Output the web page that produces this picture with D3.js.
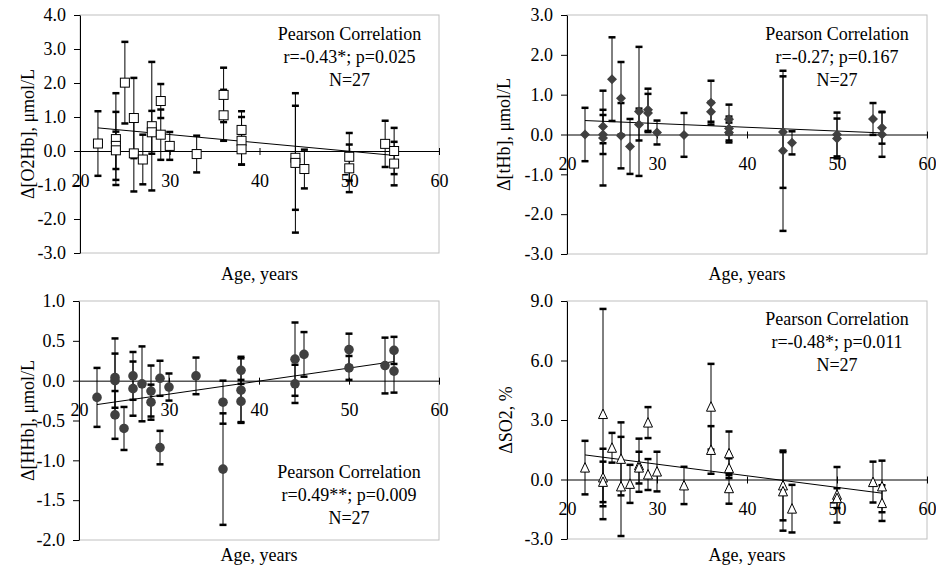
<!DOCTYPE html>
<html>
<head>
<meta charset="utf-8">
<script src="https://cdn.jsdelivr.net/npm/d3@7"></script>
<style>
  body { margin: 0; background: #fff; }
  text { font-family: "Liberation Serif", "Times New Roman", serif; font-size: 18px; fill: #000; }
</style>
</head>
<body>
<div id="chart"></div>
<script>
// age of each subject (same for all four panels)
const ages = [22, 24, 24, 24, 25, 26, 26, 27, 28, 28, 29, 29, 30, 33, 36, 36, 38, 38, 38, 44, 44, 45, 50, 50, 54, 55, 55]
const xTicks = [20, 30, 40, 50, 60]
const trendAges = [22, 55]

// delta O2Hb
const o2hbValues = [0.22, 0.35, 0.15, 0.02, 2.01, 0.97, -0.07, -0.25, 0.73, 0.55, 1.47, 0.48, 0.15, -0.09, 1.65, 1.05, 0.62, 0.3, 0.05, -0.2, -0.35, -0.53, -0.17, -0.51, 0.21, 0.0, -0.37]
const o2hbErrors = [0.95, 1.35, 1.0, 0.55, 1.2, 1.18, 1.12, 0.73, 1.89, 0.63, 0.5, 0.74, 0.41, 0.54, 0.8, 0.75, 0.55, 0.7, 0.45, 1.53, 2.05, 0.57, 0.7, 0.7, 0.68, 0.68, 0.64]
const o2hbTrend = [0.68, -0.13]
const o2hbTicks = [-3, -2, -1, 0, 1, 2, 3, 4]
const o2hbStats = ['Pearson Correlation', 'r=-0.43*; p=0.025', 'N=27']

// delta tHb
const thbValues = [0.0, 0.2, 0.0, -0.09, 1.39, 0.91, -0.03, -0.3, 0.58, 0.25, 0.62, 0.54, 0.05, -0.01, 0.8, 0.57, 0.38, 0.15, 0.05, 0.06, -0.41, -0.21, 0.0, -0.1, 0.39, 0.17, 0.0]
const thbErrors = [0.67, 0.42, 0.49, 1.19, 1.05, 0.91, 0.82, 0.69, 1.62, 0.4, 0.53, 0.48, 0.3, 0.55, 0.55, 0.25, 0.37, 0.3, 0.25, 1.4, 2.01, 0.29, 0.55, 0.5, 0.4, 0.4, 0.56]
const thbTrend = [0.35, 0.04]
const thbTicks = [-3, -2, -1, 0, 1, 2, 3]
const thbStats = ['Pearson Correlation', 'r=-0.27; p=0.167', 'N=27']

// delta HHb
const hhbValues = [-0.21, 0.04, 0.0, -0.43, -0.6, 0.06, -0.1, -0.04, -0.13, -0.27, 0.03, -0.84, -0.08, 0.06, -0.27, -1.11, 0.13, -0.12, -0.26, 0.27, -0.04, 0.33, 0.39, 0.16, 0.19, 0.38, 0.12]
const hhbErrors = [0.37, 0.49, 0.34, 0.3, 0.27, 0.3, 0.34, 0.47, 0.32, 0.22, 0.22, 0.21, 0.17, 0.23, 0.27, 0.7, 0.17, 0.4, 0.27, 0.46, 0.24, 0.28, 0.2, 0.15, 0.35, 0.17, 0.27]
const hhbTrend = [-0.30, 0.24]
const hhbTicks = [-2, -1.5, -1, -0.5, 0, 0.5, 1]
const hhbStats = ['Pearson Correlation', 'r=0.49**; p=0.009', 'N=27']

// delta SO2
const so2Values = [0.6, 3.3, 0.1, -0.12, 1.6, 1.04, -0.35, -0.22, 0.72, 0.6, 2.87, 0.25, 0.4, -0.3, 3.67, 1.49, 1.32, 0.57, -0.44, -0.3, -0.6, -1.47, -0.77, -0.94, -0.13, -0.35, -1.19]
const so2Errors = [1.35, 5.3, 1.45, 1.02, 0.75, 1.84, 2.5, 0.96, 1.34, 0.8, 0.78, 0.78, 1.0, 0.94, 2.16, 1.2, 1.1, 0.5, 0.78, 1.76, 1.98, 1.2, 1.4, 0.5, 1.03, 1.3, 0.9]
const so2Trend = [1.24, -0.69]
const so2Ticks = [-3, 0, 3, 6, 9]
const so2Stats = ['Pearson Correlation', 'r=-0.48*; p=0.011', 'N=27']

const svg = d3
  .select('#chart')
  .append('svg')
  .attr('width', 936)
  .attr('height', 571)

// marker shapes, centred on 0,0
const markers = {
  square: g => g.append('rect').attr('x', -4.5).attr('y', -4.5).attr('width', 9).attr('height', 9)
    .attr('fill', '#fff').attr('stroke', '#000').attr('stroke-width', 1),
  diamond: g => g.append('path').attr('d', 'M0,-5L5,0L0,5L-5,0Z').attr('fill', '#404040'),
  circle: g => g.append('circle').attr('r', 4.8).attr('fill', '#404040'),
  triangle: g => g.append('path').attr('d', 'M0,-5L4.5,4.5L-4.5,4.5Z')
    .attr('fill', '#fff').attr('stroke', '#000').attr('stroke-width', 1)
}

const panels = [
  { values: o2hbValues, errors: o2hbErrors, trend: o2hbTrend, ticks: o2hbTicks, stats: o2hbStats,
    yTitle: 'Δ[O2Hb], μmol/L', marker: 'square',
    left: 80, right: 439, top: 15, bottom: 253, statsY: 40, titleY: 280, yTitleX: 28 },
  { values: thbValues, errors: thbErrors, trend: thbTrend, ticks: thbTicks, stats: thbStats,
    yTitle: 'Δ[tHb], μmol/L', marker: 'diamond',
    left: 567, right: 927, top: 15, bottom: 254, statsY: 40, titleY: 280, yTitleX: 504 },
  { values: hhbValues, errors: hhbErrors, trend: hhbTrend, ticks: hhbTicks, stats: hhbStats,
    yTitle: 'Δ[HHb], μmol/L', marker: 'circle',
    left: 79, right: 439, top: 301, bottom: 540, statsY: 478, titleY: 561, yTitleX: 28 },
  { values: so2Values, errors: so2Errors, trend: so2Trend, ticks: so2Ticks, stats: so2Stats,
    yTitle: 'ΔSO2, %', marker: 'triangle',
    left: 567, right: 927, top: 301, bottom: 539, statsY: 325, titleY: 561, yTitleX: 506 }
]

panels.forEach(drawPanel)

function drawPanel (p) {
  const x = d3.scaleLinear().domain(d3.extent(xTicks)).range([p.left, p.right])
  const y = d3.scaleLinear().domain(d3.extent(p.ticks)).range([p.bottom, p.top])
  const g = svg.append('g')

  // plot area frame
  g.append('rect')
    .attr('x', p.left)
    .attr('y', p.top)
    .attr('width', p.right - p.left)
    .attr('height', p.bottom - p.top)
    .attr('fill', 'none')
    .attr('stroke', '#c0c0c0')

  // y axis
  const yAxis = g.append('g')
    .attr('transform', 'translate(' + p.left + ',0)')
    .call(d3.axisLeft(y).tickValues(p.ticks).tickFormat(d => d.toFixed(1))
      .tickSizeInner(6).tickSizeOuter(0).tickPadding(8))
  yAxis.select('.domain').attr('stroke', '#000')
  yAxis.selectAll('text').style('font-size', '18px').attr('fill', '#000')

  // x axis crosses at zero
  const xAxis = g.append('g')
    .attr('transform', 'translate(0,' + y(0) + ')')
    .call(d3.axisBottom(x).tickValues(xTicks).tickFormat(d3.format('d'))
      .tickSizeInner(4).tickSizeOuter(0).tickPadding(19))
  xAxis.selectAll('.tick line').attr('y1', -3)
  xAxis.selectAll('text').style('font-size', '18px').attr('fill', '#000')

  // trend line
  g.append('line')
    .attr('x1', x(trendAges[0]))
    .attr('y1', y(p.trend[0]))
    .attr('x2', x(trendAges[1]))
    .attr('y2', y(p.trend[1]))
    .attr('stroke', '#000')
    .attr('stroke-width', 1)

  const points = ages.map((a, i) => ({ age: a, value: p.values[i], err: p.errors[i] }))

  // error bars
  const bars = g.selectAll('.err')
    .data(points)
    .enter()
    .append('g')
    .attr('class', 'err')
  bars.append('line')
    .attr('x1', d => x(d.age))
    .attr('x2', d => x(d.age))
    .attr('y1', d => y(d.value + d.err))
    .attr('y2', d => y(d.value - d.err))
    .attr('stroke', '#000')
    .attr('stroke-width', 1)
  bars.selectAll('.cap')
    .data(d => [{ age: d.age, v: d.value + d.err }, { age: d.age, v: d.value - d.err }])
    .enter()
    .append('line')
    .attr('class', 'cap')
    .attr('x1', d => x(d.age) - 3.5)
    .attr('x2', d => x(d.age) + 3.5)
    .attr('y1', d => y(d.v))
    .attr('y2', d => y(d.v))
    .attr('stroke', '#000')
    .attr('stroke-width', 2.5)

  // markers
  g.selectAll('.pt')
    .data(points)
    .enter()
    .append('g')
    .attr('class', 'pt')
    .attr('transform', d => 'translate(' + x(d.age) + ',' + y(d.value) + ')')
    .each(function () { markers[p.marker](d3.select(this)) })

  // correlation note
  g.selectAll('.stat')
    .data(p.stats)
    .enter()
    .append('text')
    .attr('class', 'stat')
    .attr('x', (p.left + p.right) / 2 + 90)
    .attr('y', (d, i) => p.statsY + i * 23)
    .attr('text-anchor', 'middle')
    .text(d => d)

  // axis titles
  g.append('text')
    .attr('x', (p.left + p.right) / 2)
    .attr('y', p.titleY)
    .attr('text-anchor', 'middle')
    .text('Age, years')

  g.append('text')
    .attr('transform', 'translate(' + p.yTitleX + ',' + (p.top + p.bottom) / 2 + ') rotate(-90)')
    .attr('text-anchor', 'middle')
    .attr('dy', '0.35em')
    .text(p.yTitle)
}
</script>
</body>
</html>
